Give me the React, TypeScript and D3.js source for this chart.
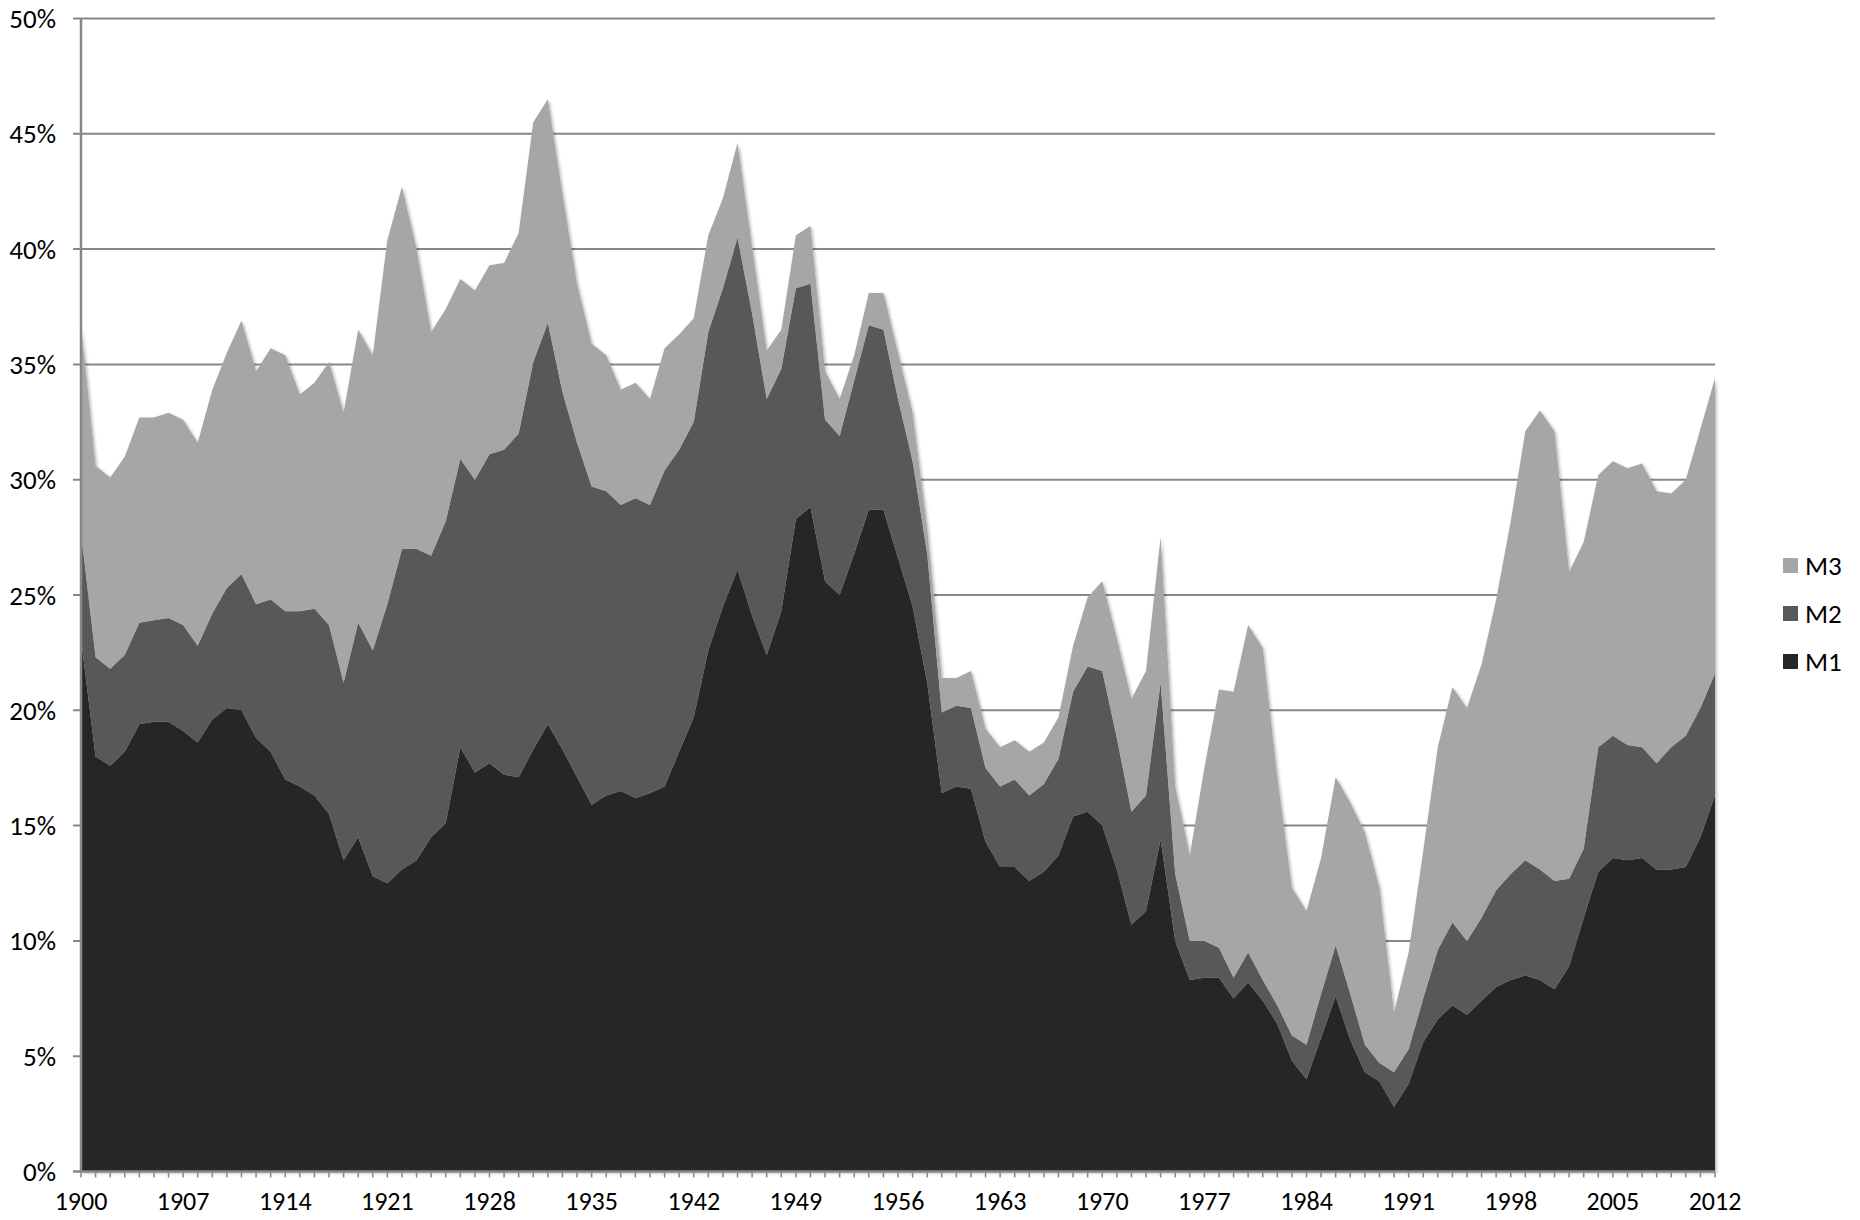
import React from "react";
import * as d3 from "d3";

const YEARS: number[] = d3.range(1900, 2013);

const M1: number[] = [
  23.1, 18.0, 17.6, 18.2, 19.4, 19.5, 19.5, 19.1, 18.6, 19.6,
  20.1, 20.0, 18.8, 18.2, 17.0, 16.7, 16.3, 15.5, 13.5, 14.5,
  12.8, 12.5, 13.1, 13.5, 14.5, 15.1, 18.4, 17.3, 17.7, 17.2,
  17.1, 18.3, 19.4, 18.3, 17.1, 15.9, 16.3, 16.5, 16.2, 16.4,
  16.7, 18.2, 19.7, 22.6, 24.5, 26.1, 24.1, 22.4, 24.3, 28.3,
  28.8, 25.6, 25.0, 26.8, 28.7, 28.7, 26.6, 24.5, 21.2, 16.4,
  16.7, 16.6, 14.3, 13.2, 13.2, 12.6, 13.0, 13.7, 15.4, 15.6,
  15.0, 13.1, 10.7, 11.3, 14.4, 10.0, 8.3, 8.4, 8.4, 7.5,
  8.2, 7.4, 6.4, 4.8, 4.0, 5.8, 7.6, 5.7, 4.3, 3.9,
  2.8, 3.8, 5.6, 6.6, 7.2, 6.8, 7.4, 8.0, 8.3, 8.5,
  8.3, 7.9, 8.9, 11.0, 13.0, 13.6, 13.5, 13.6, 13.1, 13.1,
  13.2, 14.5, 16.3,
];

const M2: number[] = [
  4.6, 4.3, 4.2, 4.2, 4.4, 4.4, 4.5, 4.6, 4.2, 4.6,
  5.2, 5.9, 5.8, 6.6, 7.3, 7.6, 8.1, 8.2, 7.7, 9.3,
  9.8, 12.1, 13.9, 13.5, 12.2, 13.1, 12.5, 12.7, 13.4, 14.1,
  14.9, 16.8, 17.4, 15.5, 14.5, 13.8, 13.2, 12.4, 13.0, 12.5,
  13.7, 13.1, 12.8, 13.8, 13.8, 14.4, 13.1, 11.1, 10.5, 10.0,
  9.7, 7.0, 6.9, 7.5, 8.0, 7.8, 6.9, 6.3, 5.6, 3.5,
  3.5, 3.5, 3.2, 3.5, 3.8, 3.7, 3.8, 4.2, 5.4, 6.3,
  6.7, 5.7, 4.9, 5.0, 6.8, 2.9, 1.7, 1.6, 1.3, 0.9,
  1.3, 0.9, 0.8, 1.1, 1.5, 1.9, 2.2, 2.0, 1.2, 0.8,
  1.5, 1.5, 1.9, 3.0, 3.6, 3.2, 3.6, 4.2, 4.6, 5.0,
  4.8, 4.7, 3.8, 3.0, 5.4, 5.3, 5.0, 4.8, 4.6, 5.3,
  5.7, 5.6, 5.3,
];

const M3: number[] = [
  9.0, 8.3, 8.3, 8.6, 8.9, 8.8, 8.9, 8.9, 8.8, 9.7,
  10.2, 11.0, 10.1, 10.9, 11.1, 9.4, 9.8, 11.4, 11.7, 12.7,
  12.8, 15.8, 15.7, 13.0, 9.7, 9.2, 7.8, 8.2, 8.2, 8.1,
  8.7, 10.4, 9.7, 8.6, 6.9, 6.2, 5.9, 5.0, 5.0, 4.6,
  5.3, 5.0, 4.5, 4.2, 3.9, 4.1, 2.9, 2.1, 1.7, 2.3,
  2.5, 2.1, 1.6, 1.1, 1.4, 1.6, 2.0, 2.1, 1.1, 1.5,
  1.2, 1.6, 1.7, 1.7, 1.7, 1.9, 1.8, 1.8, 2.0, 3.0,
  3.9, 4.3, 4.9, 5.4, 6.3, 3.8, 3.7, 7.5, 11.2, 12.4,
  14.2, 14.4, 9.9, 6.4, 5.8, 5.9, 7.3, 8.3, 9.2, 7.6,
  2.6, 4.2, 6.4, 8.8, 10.2, 10.1, 11.0, 12.6, 15.3, 18.6,
  19.9, 19.5, 13.3, 13.3, 11.8, 11.9, 12.0, 12.3, 11.8, 11.0,
  11.1, 12.1, 12.8,
];

const SERIES_KEYS = ["M1", "M2", "M3"];
const SERIES_COLORS: Record<string, string> = { M1: "#262626", M2: "#595959", M3: "#a6a6a6" };
const LEGEND_ORDER = ["M3", "M2", "M1"];
const X_TICK_LABELS: number[] = [1900, 1907, 1914, 1921, 1928, 1935, 1942, 1949, 1956, 1963, 1970, 1977, 1984, 1991, 1998, 2005, 2012];
const Y_TICKS: number[] = [0, 5, 10, 15, 20, 25, 30, 35, 40, 45, 50];

const W = 1860;
const H = 1220;
const LEFT = 81;
const RIGHT = 1715;
const TOP = 18.5;
const BOTTOM = 1171.5;
const FONT = "Carlito, Calibri, Lato, 'Open Sans', sans-serif";

export default function App() {
  const rows = YEARS.map((yr, i) => ({ year: yr, M1: M1[i], M2: M2[i], M3: M3[i] }));
  const stack = d3.stack<any>().keys(SERIES_KEYS);
  const layers = stack(rows);

  const x = d3.scaleLinear().domain([1900, 2012]).range([LEFT, RIGHT]);
  const y = d3.scaleLinear().domain([0, 50]).range([BOTTOM, TOP]);

  const area = d3
    .area<any>()
    .x((d) => x(d.data.year))
    .y0((d) => y(d[0]))
    .y1((d) => y(d[1]));

  const gridColor = "#878787";

  return (
    <div style={{ position: "absolute", left: 0, top: 0, width: W, height: H, background: "#fff" }}>
      <svg width={W} height={H} style={{ display: "block" }}>
        <defs>
          <filter id="shadow" x="-5%" y="-5%" width="110%" height="110%">
            <feDropShadow dx="1.5" dy="1.5" stdDeviation="1.5" floodColor="#000" floodOpacity="0.3" />
          </filter>
        </defs>
        <rect x={0} y={0} width={W} height={H} fill="#fff" />
        {Y_TICKS.filter((t) => t > 0).map((t) => (
          <line key={"g" + t} x1={LEFT - 8} x2={RIGHT} y1={y(t)} y2={y(t)} stroke={gridColor} strokeWidth={2} />
        ))}
        <g filter="url(#shadow)">
          {layers.map((layer) => (
            <path key={layer.key} d={area(layer) || ""} fill={SERIES_COLORS[layer.key]} />
          ))}
        </g>
        <line x1={LEFT} x2={LEFT} y1={TOP} y2={BOTTOM} stroke={gridColor} strokeWidth={2.5} />
        <line x1={LEFT - 8} x2={RIGHT} y1={BOTTOM} y2={BOTTOM} stroke={gridColor} strokeWidth={2.5} />
        {YEARS.map((yr) => (
          <line key={"t" + yr} x1={x(yr)} x2={x(yr)} y1={BOTTOM} y2={BOTTOM + 6} stroke={gridColor} strokeWidth={1.5} />
        ))}
        {Y_TICKS.map((t) => (
          <text
            key={"yl" + t}
            x={56}
            y={y(t)}
            textAnchor="end"
            dominantBaseline="central"
            fontFamily={FONT}
            fontSize={27}
            fill="#000"
          >
            {t + "%"}
          </text>
        ))}
        {X_TICK_LABELS.map((yr) => (
          <text
            key={"xl" + yr}
            x={x(yr)}
            y={1210}
            textAnchor="middle"
            fontFamily={FONT}
            fontSize={26}
            fill="#000"
          >
            {yr}
          </text>
        ))}
        {LEGEND_ORDER.map((k, i) => (
          <g key={"lg" + k} transform={`translate(1783, ${558 + i * 48})`}>
            <rect x={0} y={0} width={15} height={15} fill={SERIES_COLORS[k]} />
            <text x={22} y={17} fontFamily={FONT} fontSize={27} fill="#000">
              {k}
            </text>
          </g>
        ))}
      </svg>
    </div>
  );
}
